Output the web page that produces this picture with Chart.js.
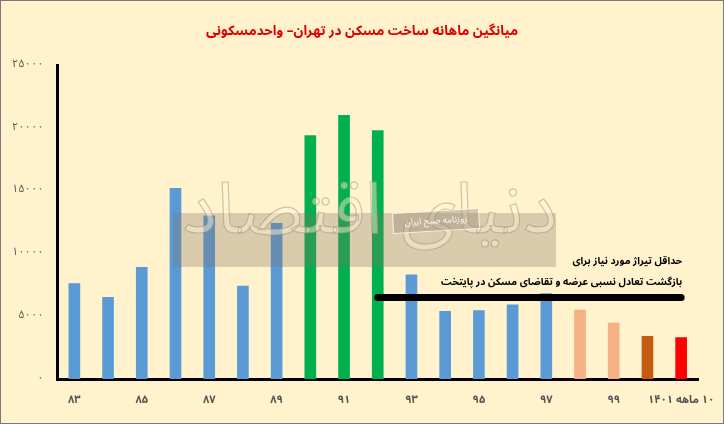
<!DOCTYPE html>
<html>
<head>
<meta charset="utf-8">
<script src="https://cdn.jsdelivr.net/npm/chart.js@4"></script>
<style>
  html, body { margin: 0; padding: 0; background: #FFF2CC; }
  #wrap { width: 724px; height: 424px; position: relative; }
</style>
</head>
<body>
<div id="wrap"><canvas id="housingChart" width="724" height="424"></canvas></div>
<script>
// years (solar hijri)
const years = ["۸۳", "۸۴", "۸۵", "۸۶", "۸۷", "۸۸", "۸۹", "۹۰", "۹۱", "۹۲", "۹۳", "۹۴", "۹۵", "۹۶", "۹۷", "۹۸", "۹۹", "۱۴۰۰", "\u202B۱۰ ماهه ۱۴۰۱\u202C"];
// monthly average of new housing units
const units = [7600, 6500, 8900, 15200, 13000, 7400, 12400, 19400, 21000, 19800, 8300, 5400, 5450, 5900, 6800, 5500, 4450, 3400, 3300];
// minimum needed (black line from 92 onward)
const minNeeded = [null, null, null, null, null, null, null, null, null, 6500, 6500, 6500, 6500, 6500, 6500, 6500, 6500, 6500, 6500];
const yTicks = [0, 5000, 10000, 15000, 20000, 25000];

const blue = "#5B9BD5", green = "#00B050", peach = "#F4B183", brown = "#C55A11", red = "#FF0000";
const barColors = [blue, blue, blue, blue, blue, blue, blue, green, green, green, blue, blue, blue, blue, blue, peach, peach, brown, red];

const fa = (v) => String(v).replace(/\d/g, (d) => "۰۱۲۳۴۵۶۷۸۹"[d]);
const faFont = "'Noto Sans Arabic', 'DejaVu Sans Condensed', 'DejaVu Sans', sans-serif";

// note text next to the black line + watermark + frame
const extras = {
  id: "extras",
  afterDraw(chart) {
    const ctx = chart.ctx;
    const x = chart.scales.x, y = chart.scales.y;
    ctx.save();

    // annotation above the line
    const right = x.getPixelForValue(18) + 1;
    const lineY = y.getPixelForValue(6500);
    ctx.fillStyle = "#000";
    ctx.textAlign = "right";
    ctx.textBaseline = "middle";
    ctx.font = "bold 10px " + faFont;
    ctx.fillText("حداقل تیراژ مورد نیاز برای", right, lineY - 35);
    ctx.fillText("بازگشت تعادل نسبی عرضه و تقاضای مسکن در پایتخت", right, lineY - 14);

    // watermark band
    ctx.fillStyle = "rgba(128,112,101,0.3)";
    ctx.fillRect(173, 213, 383, 54);
    ctx.textAlign = "center";
    ctx.font = "72px " + faFont;
    ctx.lineWidth = 1.2;
    ctx.fillStyle = "rgba(255,246,222,0.45)";
    ctx.strokeStyle = "rgba(150,135,110,0.45)";
    ctx.fillText("دنیای اقتصاد", 370, 222);
    ctx.strokeText("دنیای اقتصاد", 370, 222);

    // small tag
    ctx.translate(436, 221);
    ctx.rotate(-0.06);
    ctx.fillStyle = "rgba(160,145,125,0.45)";
    ctx.fillRect(-43, -10, 86, 20);
    ctx.strokeStyle = "rgba(255,255,255,0.8)";
    ctx.lineWidth = 1;
    ctx.strokeRect(-43, -10, 86, 20);
    ctx.fillStyle = "rgba(255,255,255,0.9)";
    ctx.font = "9px " + faFont;
    ctx.fillText("روزنامه صبح ایران", 0, 1);
    ctx.restore();

    // picture frame
    ctx.save();
    ctx.strokeStyle = "#7a7a7a";
    ctx.lineWidth = 2;
    ctx.strokeRect(0, 0, 724, 424);
    ctx.restore();
  }
};

new Chart(document.getElementById("housingChart"), {
  data: {
    labels: years,
    datasets: [
      {
        type: "line",
        data: minNeeded,
        borderColor: "#000",
        borderWidth: 7,
        borderCapStyle: "round",
        pointRadius: 0,
        spanGaps: false,
        order: 0
      },
      {
        type: "bar",
        data: units,
        backgroundColor: barColors,
        barThickness: 11,
        order: 1
      }
    ]
  },
  options: {
    responsive: false,
    animation: false,
    layout: { padding: { left: 13, right: 13, top: 0, bottom: 0 } },
    plugins: {
      legend: { display: false },
      tooltip: { enabled: false },
      title: {
        display: true,
        text: "میانگین ماهانه ساخت مسکن در تهران– واحدمسکونی",
        color: "#E00000",
        font: { family: faFont, size: 13.5, weight: "bold" },
        padding: { top: 25, bottom: 24 }
      }
    },
    scales: {
      x: {
        grid: { display: false, drawTicks: false },
        border: { display: true, color: "#000", width: 3 },
        afterFit: (s) => { s.height = 45; s.paddingLeft = 0; s.paddingRight = 26; },
        ticks: {
          autoSkip: false,
          maxRotation: 0,
          padding: 16,
          color: "#555",
          font: { family: faFont, size: 11, weight: "bold" },
          callback: function (v, i) { return i % 2 === 0 ? this.getLabelForValue(v) : ""; }
        }
      },
      y: {
        min: 0,
        max: 25000,
        afterBuildTicks: (s) => { s.ticks = yTicks.map((v) => ({ value: v })); },
        grid: { display: false, drawTicks: false },
        border: { display: true, color: "#000", width: 3 },
        afterFit: (s) => { s.width = 44.5; },
        ticks: {
          padding: 14,
          color: "#555",
          font: { family: faFont, size: 11 },
          callback: (v) => fa(v)
        }
      }
    }
  },
  plugins: [extras]
});
</script>
</body>
</html>
